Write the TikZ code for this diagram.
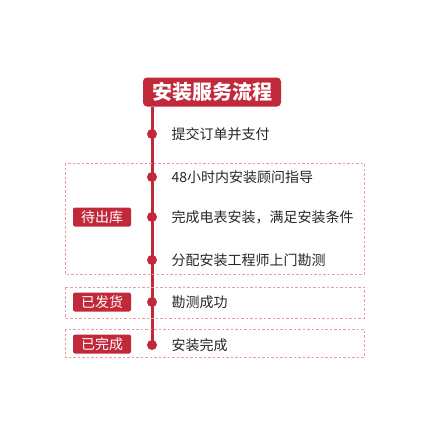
\documentclass[tikz,border=0pt]{standalone}
\usepackage{fontspec}
\setmainfont{Noto Sans CJK SC}
\usetikzlibrary{positioning,fit,calc}
\definecolor{flowred}{HTML}{C1283A}
\definecolor{boxpink}{HTML}{E89AA4}

\begin{document}
\begin{tikzpicture}[
  x=1pt,y=-1pt,
  font=\fontsize{14}{16}\selectfont,
  dot/.style={circle,fill=flowred,inner sep=0pt,minimum size=10pt},
  stepname/.style={anchor=west,text=black!85},
  tag/.style={fill=flowred,text=white,rounded corners=2pt,inner sep=0pt,minimum width=58pt,minimum height=19pt},
  group/.style={draw=boxpink,dash pattern=on 2.5pt off 2pt,line width=0.8pt}
]
\useasboundingbox (0,0) rectangle (428,428);
\node[fill=flowred,text=white,rounded corners=4pt,minimum width=138pt,minimum height=29pt,font=\fontsize{20}{22}\selectfont\bfseries] (title) at (212,92) {安装服务流程};
% steps
\node[dot] (d1) at (152,134) {};
\node[dot] (d2) at (152,177) {};
\node[dot] (d3) at (152,217) {};
\node[dot] (d4) at (152,260) {};
\node[dot] (d5) at (152,302) {};
\node[dot] (d6) at (152,345) {};
\draw[flowred,line width=3pt] (d1 |- title.south) -- (d6.center);
\node[stepname] (s1) at (168,134) {提交订单并支付};
\node[stepname] (s2) at (168,177) {48小时内安装顾问指导};
\node[stepname] (s3) at (168,217) {完成电表安装，满足安装条件};
\node[stepname] (s4) at (168,260) {分配安装工程师上门勘测};
\node[stepname] (s5) at (168,302) {勘测成功};
\node[stepname] (s6) at (168,345) {安装完成};
% groups
\draw[group] (65,163) rectangle (364,274);
\draw[group] (65,287) rectangle (364,318);
\draw[group] (65,329) rectangle (364,357);
\node[tag] (t1) at (102,217) {待出库};
\node[tag] (t2) at (102,302) {已发货};
\node[tag] (t3) at (102,344) {已完成};
\end{tikzpicture}
\end{document}
